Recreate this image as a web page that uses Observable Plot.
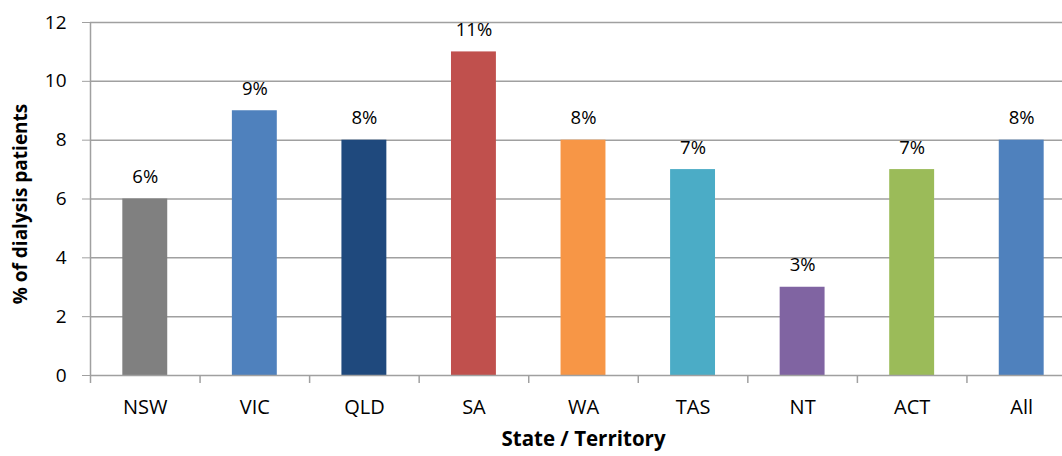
<!DOCTYPE html>
<html>
<head>
<meta charset="utf-8">
<script src="https://cdn.jsdelivr.net/npm/d3@7"></script>
<script src="https://cdn.jsdelivr.net/npm/@observablehq/plot@0.6"></script>
<style>
  html, body { margin: 0; padding: 0; background: #fff; overflow: hidden; }
  svg { font-family: "Open Sans", Lato, sans-serif; }
</style>
</head>
<body>
<div id="chart"></div>
<script>
const categories = ["NSW", "VIC", "QLD", "SA", "WA", "TAS", "NT", "ACT", "All"];
const values = [6, 9, 8, 11, 8, 7, 3, 7, 8];
const colors = ["#808080", "#4f81bd", "#1f497d", "#c0504d", "#f79646", "#4bacc6", "#8064a2", "#9bbb59", "#4f81bd"];
const yTicks = [0, 2, 4, 6, 8, 10, 12];
const xTitle = "State / Territory";
const yTitle = "% of dialysis patients";

const data = categories.map((c, i) => ({cat: c, value: values[i], color: colors[i]}));

const W = 1062, H = 456;
const mL = 90, mT = 22, mB = 81, mR = -14;
const step = (W - mR - mL) / categories.length;
const grid = "#a0a0a0";

const chart = Plot.plot({
  width: W,
  height: H,
  marginLeft: mL,
  marginTop: mT,
  marginBottom: mB,
  marginRight: mR,
  style: {overflow: "visible", background: "#fff"},
  x: {domain: categories, paddingInner: 0.59, paddingOuter: 0.295, align: 0.5, round: false},
  y: {domain: [0, 12]},
  marks: [
    Plot.ruleY(yTicks.slice(1), {stroke: grid, strokeWidth: 1.5}),
    Plot.barY(data, {x: "cat", y: "value", fill: "color"}),
    Plot.ruleY([0], {stroke: grid, strokeWidth: 1.5}),
    Plot.ruleX([categories[0]], {dx: -step / 2, y1: 0, y2: 12, stroke: grid, strokeWidth: 1.5}),
    Plot.ruleX(categories, {dx: -step / 2, y1: 0, y2: -8 * 12 / (H - mT - mB), stroke: grid, strokeWidth: 1.5}),
    Plot.axisY({ticks: yTicks, tickSize: 8, tickPadding: 16, stroke: grid, fontSize: 19, fill: "#000", label: null, tickFormat: d => String(d)}),
    Plot.axisX({tickSize: 0, tickPadding: 24, fontSize: 20, label: null}),
    Plot.text(data, {x: "cat", y: "value", text: d => d.value + "%", dy: -22, fontSize: 18.5, fill: "#000"}),
    Plot.text([xTitle], {frameAnchor: "bottom", dy: 70, fontSize: 20.5, fontWeight: "bold", fill: "#000"}),
    Plot.text([yTitle], {frameAnchor: "left", textAnchor: "middle", dx: -70, dy: 5, rotate: -90, fontSize: 19, fontWeight: "bold", fill: "#000"})
  ]
});
document.getElementById("chart").appendChild(chart);
</script>
</body>
</html>
